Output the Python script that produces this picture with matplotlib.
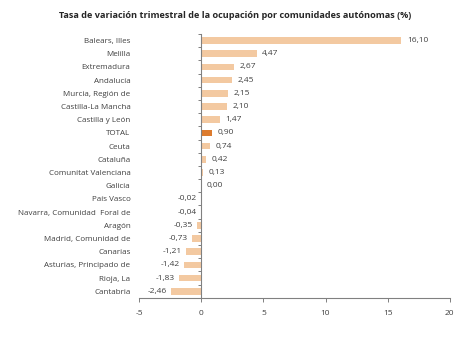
import matplotlib
matplotlib.use("Agg")
import matplotlib.pyplot as plt
import numpy as np

categories = ["Balears, Illes", "Melilla", "Extremadura", "Andalucía", "Murcia, Región de",
              "Castilla-La Mancha", "Castilla y León", "TOTAL", "Ceuta", "Cataluña",
              "Comunitat Valenciana", "Galicia", "País Vasco", "Navarra, Comunidad  Foral de",
              "Aragón", "Madrid, Comunidad de", "Canarias", "Asturias, Principado de",
              "Rioja, La", "Cantabria"]
values = [16.10, 4.47, 2.67, 2.45, 2.15, 2.10, 1.47, 0.90, 0.74, 0.42,
          0.13, 0.00, -0.02, -0.04, -0.35, -0.73, -1.21, -1.42, -1.83, -2.46]
xticks = [-5, 0, 5, 10, 15, 20]
title = "Tasa de variación trimestral de la ocupación por comunidades autónomas (%)"

light = "#F3C9A1"
dark = "#DC7B2E"
plt.rcParams['font.family'] = ['Open Sans', 'DejaVu Sans']

fig = plt.figure(figsize=(4.7, 3.4), dpi=100)
ax = fig.add_axes([0.296, 0.124, 0.661, 0.776])

y = np.arange(len(categories))
colors = [dark if c == "TOTAL" else light for c in categories]
ax.barh(y, values, height=0.5, color=colors, zorder=2)

fs = 6.0
for yi, v in zip(y, values):
    s = f"{v:.2f}".replace(".", ",")
    if v >= 0:
        ax.annotate(s, (v, yi), xytext=(4, 0), textcoords="offset points",
                    ha="left", va="center", fontsize=fs, color="#404040")
    else:
        ax.annotate(s, (v, yi), xytext=(-3, 0), textcoords="offset points",
                    ha="right", va="center", fontsize=fs, color="#404040")

ax.set_xlim(-5, 20)
ax.set_ylim(len(categories) - 0.5, -0.5)
ax.set_xticks(xticks)
ax.set_xticklabels([str(t) for t in xticks])
ax.set_yticks(y)
ax.set_yticklabels(categories)
ax.set_yticks(np.arange(len(categories) + 1) - 0.5, minor=True)

for s in ["top", "right"]:
    ax.spines[s].set_visible(False)
ax.spines["left"].set_position(("data", 0))
ax.spines["left"].set_color("#808080")
ax.spines["bottom"].set_color("#808080")
ax.spines["left"].set_linewidth(0.8)
ax.spines["bottom"].set_linewidth(0.8)

ax.tick_params(axis="y", which="major", length=0, pad=51, labelsize=5.8, labelcolor="#404040")
ax.tick_params(axis="y", which="minor", length=2.5, color="#808080", width=0.7)
ax.tick_params(axis="x", length=3, color="#808080", width=0.7, pad=6, labelsize=fs, labelcolor="#404040")

fig.text(0.5, 0.953, title, ha="center", va="center", fontsize=6.6,
         fontweight="bold", color="#262626")

fig.savefig("out.png", dpi=100)
